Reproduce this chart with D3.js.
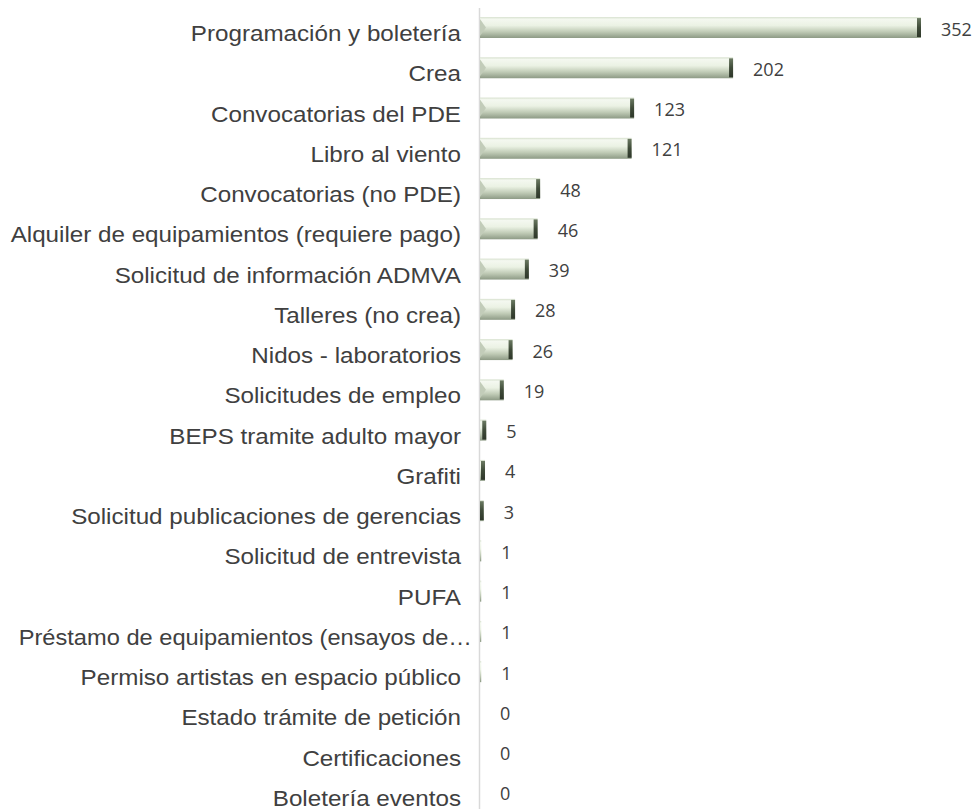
<!DOCTYPE html>
<html>
<head>
<meta charset="utf-8">
<script src="https://cdn.jsdelivr.net/npm/d3@7"></script>
<style>
  html, body { margin: 0; padding: 0; background: #fff; }
  svg { display: block; }
</style>
</head>
<body>
<div id="chart"></div>
<script>
var categories = [
  "Programación y boletería",
  "Crea",
  "Convocatorias del PDE",
  "Libro al viento",
  "Convocatorias (no PDE)",
  "Alquiler de equipamientos (requiere pago)",
  "Solicitud de información ADMVA",
  "Talleres (no crea)",
  "Nidos - laboratorios",
  "Solicitudes de empleo",
  "BEPS tramite adulto mayor",
  "Grafiti",
  "Solicitud publicaciones de gerencias",
  "Solicitud de entrevista",
  "PUFA",
  "Préstamo de equipamientos (ensayos de…",
  "Permiso artistas en espacio público",
  "Estado trámite de petición",
  "Certificaciones",
  "Boletería eventos"
];
var values = [352, 202, 123, 121, 48, 46, 39, 28, 26, 19, 5, 4, 3, 1, 1, 1, 1, 0, 0, 0];

var width = 976, height = 809;
var x0 = 480;

var svg = d3.select("#chart").append("svg")
  .attr("width", width)
  .attr("height", height);

var defs = svg.append("defs");
var grad = defs.append("linearGradient")
  .attr("id", "barGrad")
  .attr("x1", 0).attr("y1", 0).attr("x2", 0).attr("y2", 1);
[["0%", "#d6e0cd"], ["10%", "#f4f8f0"], ["40%", "#ebf2e4"], ["70%", "#c0cbb6"], ["100%", "#8d9a85"]]
  .forEach(function(s) { grad.append("stop").attr("offset", s[0]).attr("stop-color", s[1]); });

var capGrad = defs.append("linearGradient")
  .attr("id", "capGrad")
  .attr("x1", 0).attr("y1", 0).attr("x2", 0).attr("y2", 1);
[["0%", "#6b7a62"], ["50%", "#3f4b39"], ["100%", "#2e372a"]]
  .forEach(function(s) { capGrad.append("stop").attr("offset", s[0]).attr("stop-color", s[1]); });

var x = d3.scaleLinear().domain([0, 352]).range([x0, 921]);
var y = d3.scaleBand().domain(categories).range([7.4, 812.6]).paddingInner(0.48).paddingOuter(0.24);

// axis line
svg.append("line")
  .attr("x1", x0 - 0.5).attr("x2", x0 - 0.5)
  .attr("y1", 8).attr("y2", height)
  .attr("stroke", "#d9d9d9").attr("stroke-width", 1.5);

var g = svg.selectAll("g.bar").data(categories).enter().append("g").attr("class", "bar");

g.append("rect")
  .attr("x", x0)
  .attr("y", function(d) { return y(d); })
  .attr("width", function(d, i) { return x(values[i]) - x0; })
  .attr("height", y.bandwidth())
  .attr("fill", "url(#barGrad)");

// left bevel
g.filter(function(d, i) { return x(values[i]) - x0 > 12; })
  .append("path")
  .attr("d", function(d) {
    var t = y(d), h = y.bandwidth();
    return "M" + x0 + "," + (t + 2) + "L" + (x0 + 6) + "," + (t + h * 0.5) + "L" + x0 + "," + (t + h - 2) + "Z";
  })
  .attr("fill", "#c2ccb9");

// right dark cap
g.filter(function(d, i) { return x(values[i]) - x0 >= 2; })
  .append("rect")
  .attr("x", function(d, i) { var w = x(values[i]) - x0; return x(values[i]) - Math.min(4, w); })
  .attr("y", function(d) { return y(d) + 1; })
  .attr("width", function(d, i) { return Math.min(4, x(values[i]) - x0); })
  .attr("height", y.bandwidth() - 2)
  .attr("fill", "url(#capGrad)");

// value labels
g.append("text")
  .attr("x", function(d, i) { return x(values[i]) + 20; })
  .attr("y", function(d) { return y(d) + y.bandwidth() / 2 + 8; })
  .attr("font-family", "'Open Sans', sans-serif")
  .attr("font-size", 18)
  .attr("fill", "#404040")
  .text(function(d, i) { return values[i]; });

// category labels
svg.selectAll("text.cat").data(categories).enter().append("text")
  .attr("class", "cat")
  .attr("transform", function(d) {
    var tx = d.indexOf("…") >= 0 ? 472 : 461;
    var sx = d.indexOf("…") >= 0 ? 1.075 : 1.1;
    return "translate(" + tx + "," + (y(d) + y.bandwidth() / 2 + 13.5) + ") scale(" + sx + ",1)";
  })
  .attr("text-anchor", "end")
  .attr("font-family", "'Liberation Sans', Arial, sans-serif")
  .attr("font-size", 22)
  .attr("fill", "#404040")
  .text(function(d) { return d; });
</script>
</body>
</html>
